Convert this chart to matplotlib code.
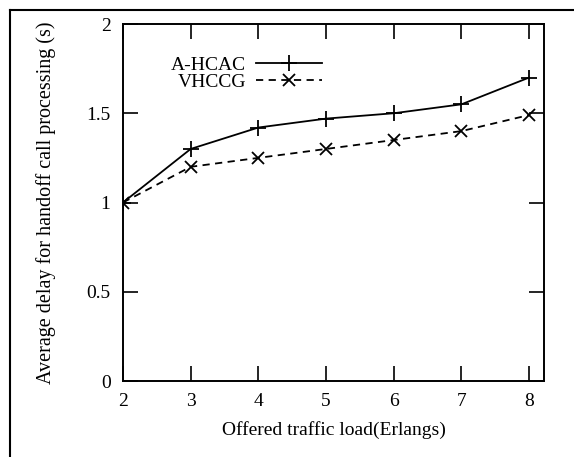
import matplotlib
matplotlib.use("Agg")
import matplotlib.pyplot as plt
from matplotlib.lines import Line2D

x_load = [2, 3, 4, 5, 6, 7, 8]
ahcac = [1.0, 1.3, 1.42, 1.47, 1.5, 1.55, 1.7]
vhccg = [1.0, 1.2, 1.25, 1.3, 1.35, 1.4, 1.49]
xticks = [2, 3, 4, 5, 6, 7, 8]
yticks = [0, 0.5, 1, 1.5, 2]
ytick_labels = ["0", "0.5", "1", "1.5", "2"]

plt.rcParams['font.family'] = ['Liberation Serif', 'DejaVu Serif']

W, H = 574, 457
fig = plt.figure(figsize=(W / 100, H / 100), dpi=100)
L, R, T, B = 123, 544, 24, 381
ax = fig.add_axes([L / W, (H - B) / H, (R - L) / W, (B - T) / H])

ax.plot(x_load, ahcac, color='black', lw=1.3, marker='+', ms=12, mew=1.3,
        label='A-HCAC')
ax.plot(x_load, vhccg, color='black', lw=1.3, marker='x', ms=9, mew=1.3,
        dashes=(4, 3), label='VHCCG')

ax.set_xlim(2, 8.22)
ax.set_ylim(0, 2)
ax.set_xticks(xticks)
ax.set_yticks(yticks)
ax.set_yticklabels(ytick_labels)
ax.tick_params(direction='in', length=11, width=1.2, top=True, right=True,
               labelsize=14, pad=9)
for s in ax.spines.values():
    s.set_linewidth(1.4)

ax.set_xlabel('Offered traffic load(Erlangs)', fontsize=14)
ax.set_ylabel('Average delay for handoff call processing (s)', fontsize=14.5)
ax.xaxis.set_label_coords(0.5, -0.137)
ax.xaxis.label.set_va('center')
ax.yaxis.set_label_coords(-0.183, 0.5)
ax.yaxis.label.set_va('center')

leg = ax.legend(loc='upper right', bbox_to_anchor=((322 - L) / (R - L), 1 - (56 - T) / (B - T)),
                frameon=False, markerfirst=False, fontsize=14, borderpad=0,
                labelspacing=0.0, handlelength=3.4, handletextpad=0.5,
                borderaxespad=0)

fig.add_artist(Line2D([9.5 / W, 9.5 / W], [0, 1 - 9.5 / H], transform=fig.transFigure,
                      color='black', lw=1.5))
fig.add_artist(Line2D([9.5 / W, 1], [1 - 9.5 / H, 1 - 9.5 / H], transform=fig.transFigure,
                      color='black', lw=1.5))

fig.savefig('out.png', dpi=100)
